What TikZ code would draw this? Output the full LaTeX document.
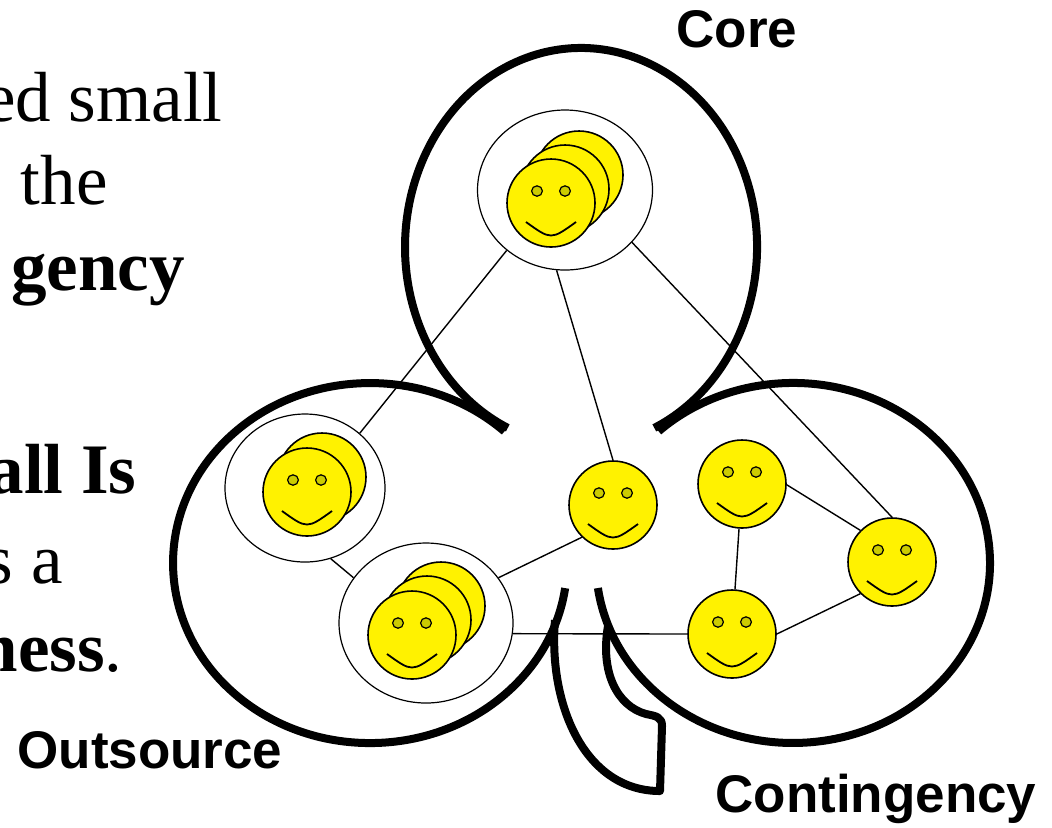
\documentclass[tikz,border=0pt]{standalone}
\usepackage{fontspec}
\setmainfont{Liberation Serif}
\newfontfamily\labelfont{Liberation Sans}
\usetikzlibrary{shapes.geometric}
\definecolor{eyecol}{HTML}{CCCC00}
\begin{document}
\begin{tikzpicture}[x=0.5pt, y=0.5pt,
  smiley/.style={circle, draw, fill=yellow, line width=0.8pt, minimum size=44pt, inner sep=0pt},
  face/.style={smiley, path picture={
    \draw[fill=eyecol, line width=0.6pt] ([shift={(-7pt,6pt)}]path picture bounding box.center) ellipse [x radius=2.7pt, y radius=2.6pt];
    \draw[fill=eyecol, line width=0.6pt] ([shift={(7pt,6pt)}]path picture bounding box.center) ellipse [x radius=2.7pt, y radius=2.6pt];
    \draw[line width=0.9pt] ([shift={(-12.5pt,-9.5pt)}]path picture bounding box.center) .. controls ([shift={(0pt,-18.5pt)}]path picture bounding box.center) .. ([shift={(12.5pt,-9.5pt)}]path picture bounding box.center);}},
  team/.style={ellipse, draw, line width=0.6pt, fill=white, inner sep=0pt},
  link/.style={line width=0.7pt},
  lobe/.style={line width=4pt},
  lbl/.style={font=\labelfont\bfseries\fontsize{26.5}{30}\selectfont, inner sep=0pt},
  txt/.style={font=\fontsize{35.5}{40}\selectfont, anchor=base east, inner sep=0pt}]
\useasboundingbox (0,0) rectangle (1052,-827);

\draw[lobe] (654.3,-427.9) arc[start angle=-65.4, end angle=245.4, x radius=176, y radius=199];
\draw[lobe] (504.4,-431.4) arc[start angle=47, end angle=352, x radius=197, y radius=180];
\draw[lobe] (597.9,-588) arc[start angle=-172, end angle=133, x radius=197, y radius=180];
\draw[lobe, line join=round] (555,-620) .. controls (548,-705) and (585,-791) .. (660,-791) -- (662,-726) .. controls (662,-717) and (656,-716) .. (646,-714) .. controls (617,-706) and (600,-672) .. (608,-626);

\node[team, minimum width=87.5pt, minimum height=80pt] (coreteam) at (565,-190) {};
\node[smiley] (core3) at (579,-175) {};
\node[smiley] (core2) at (565,-189) {};
\node[face] (core1) at (551,-203) {};

\node[team, minimum width=80pt, minimum height=74pt] (outA) at (305,-488) {};
\node[smiley] (outA2) at (322,-477) {};
\node[face] (outA1) at (307,-492) {};

\node[team, minimum width=87pt, minimum height=80pt] (outB) at (426,-623) {};
\node[smiley] (outB3) at (441,-606) {};
\node[smiley] (outB2) at (427,-620) {};
\node[face] (outB1) at (412,-635) {};

\node[face] (mid) at (613,-505) {};
\node[face] (conA) at (742,-484) {};
\node[face] (conB) at (892,-562) {};
\node[face] (conC) at (732,-634) {};

\draw[link] (coreteam.226) -- (outA.45);
\draw[link] (coreteam.264) -- (mid.north);
\draw[link] (coreteam.-38) -- (conB.north);
\draw[link] (outA.-70) -- (outB.148);
\draw[link] (outB.32) -- (mid.226);
\draw[link] (outB.-7) -- (conC.west);
\draw[link] (conA) -- (conC);
\draw[link] (conA.-1) -- (conB.135);
\draw[link] (conC.east) -- (conB.225);

\node[lbl, anchor=base] (corelbl) at (737,-47) {Core};
\node[lbl, anchor=base west] (outlbl) at (17,-768) {Outsource};
\node[lbl, anchor=base west] (conlbl) at (715,-812) {Contingency};

\node[txt] (line1) at (223,-121) {ed small};
\node[txt] (line2) at (108,-204) {the};
\node[txt] (line3) at (185,-290) {\bfseries gency};
\node[txt] (line4) at (137,-493) {\bfseries all Is};
\node[txt] (line5) at (63,-583) {s a};
\node[txt] (line6) at (123,-671) {\textbf{ness}.};
\end{tikzpicture}
\end{document}
